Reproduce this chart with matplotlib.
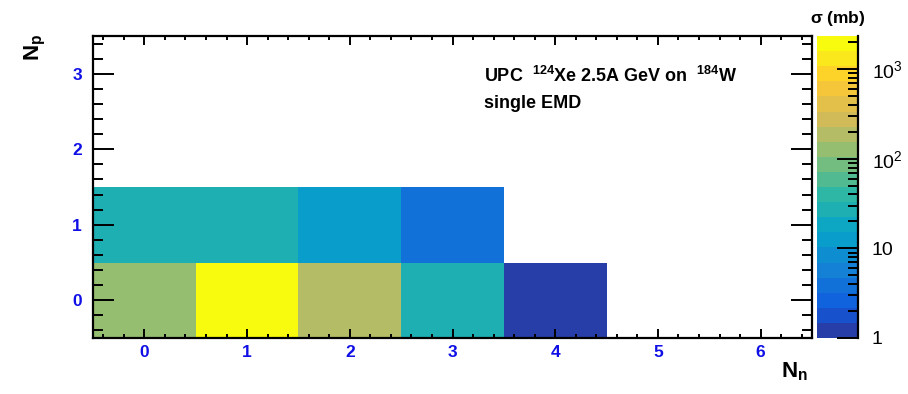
import numpy as np
import matplotlib
matplotlib.use("Agg")
import matplotlib.pyplot as plt
from matplotlib.colors import LinearSegmentedColormap, ListedColormap, LogNorm
from matplotlib.ticker import FixedLocator, MultipleLocator, NullFormatter

plt.rcParams['font.family'] = ['Liberation Sans', 'DejaVu Sans']
plt.rcParams['mathtext.default'] = 'regular'

# cross sections in mb, rows: Np = 0, 1 ; columns: Nn = 0..6
nn_edges = np.arange(-0.5, 7.0, 1.0)
np_edges = np.arange(-0.5, 4.0, 1.0)
sigma_np0 = [120, 2000, 220, 30, 1.2, np.nan, np.nan]
sigma_np1 = [30, 30, 12, 4, np.nan, np.nan, np.nan]
sigma_np2 = [np.nan] * 7
sigma_np3 = [np.nan] * 7
z_min, z_max = 1.0, 2350.0
n_contours = 20

# ROOT kBird palette
stops = [0.0, 0.125, 0.25, 0.375, 0.5, 0.625, 0.75, 0.875, 1.0]
red = [0.2082, 0.0592, 0.0780, 0.0232, 0.1802, 0.5301, 0.8186, 0.9956, 0.9764]
green = [0.1664, 0.3599, 0.5041, 0.6419, 0.7178, 0.7492, 0.7328, 0.7862, 0.9832]
blue = [0.5293, 0.8684, 0.8385, 0.7914, 0.6425, 0.4662, 0.3499, 0.1968, 0.0539]
bird = LinearSegmentedColormap.from_list(
    'bird', [(s, (r, g, b)) for s, r, g, b in zip(stops, red, green, blue)], N=255)
# ROOT picks palette index int((i+0.99)*ncolors/ndivz) for each contour band
band_cols = [bird(int((i + 0.99) * 255 / n_contours) / 254.0) for i in range(n_contours)]
cmap = ListedColormap(band_cols)
norm = LogNorm(vmin=z_min, vmax=z_max)

z = np.array([sigma_np0, sigma_np1, sigma_np2, sigma_np3], dtype=float)

fig = plt.figure(figsize=(9.08, 3.94), dpi=100)
ax = fig.add_axes([93 / 908, 1 - 338 / 394, (812 - 93) / 908, (338 - 36) / 394])
cax = fig.add_axes([817 / 908, 1 - 338 / 394, (858 - 817) / 908, (338 - 36) / 394])

ax.pcolormesh(nn_edges, np_edges, np.ma.masked_invalid(z), cmap=cmap, norm=norm)
ax.set_xlim(-0.5, 6.5)
ax.set_ylim(-0.5, 3.5)

for s in ax.spines.values():
    s.set_linewidth(1.6)
ax.xaxis.set_major_locator(MultipleLocator(1))
ax.xaxis.set_minor_locator(MultipleLocator(0.2))
ax.yaxis.set_major_locator(MultipleLocator(1))
ax.yaxis.set_minor_locator(MultipleLocator(0.2))
ax.tick_params(which='both', direction='in', top=True, right=True, width=1.4,
               labelcolor='#1010e6', labelsize=12.5)
ax.tick_params(axis='x', which='major', length=6.5, pad=5)
ax.tick_params(axis='x', which='minor', length=3.2)
ax.tick_params(axis='y', which='major', length=15, pad=8)
ax.tick_params(axis='y', which='minor', length=7.5)
for lab in ax.get_xticklabels() + ax.get_yticklabels():
    lab.set_fontweight('bold')

fig.text(808 / 908, 1 - 372 / 394, r'N$_{n}$', ha='right', va='center',
         fontsize=16, fontweight='bold')
fig.text(35 / 908, 1 - 34 / 394, r'N$_{p}$', ha='center', va='top', rotation=90,
         fontsize=16, fontweight='bold')

ax.text(484 / 908, 1 - 76 / 394, r'UPC  $^{124}$Xe 2.5A GeV on  $^{184}$W',
        transform=fig.transFigure, ha='left', va='center', fontsize=13, fontweight='bold')
ax.text(484 / 908, 1 - 104 / 394, 'single EMD', transform=fig.transFigure,
        ha='left', va='center', fontsize=13, fontweight='bold')

# colour scale
levels = np.logspace(np.log10(z_min), np.log10(z_max), n_contours + 1)
mids = np.sqrt(levels[:-1] * levels[1:])
cax.pcolormesh([0, 1], levels, mids[:, None], cmap=cmap, norm=norm)
cax.set_yscale('log')
cax.set_ylim(z_min, z_max)
cax.set_xlim(0, 1)
cax.set_xticks([])
for side in ['left', 'top', 'bottom']:
    cax.spines[side].set_visible(False)
cax.spines['right'].set_linewidth(1.6)
cax.yaxis.tick_right()
cax.yaxis.set_major_locator(FixedLocator([1, 10, 100, 1000]))
cax.yaxis.set_minor_locator(FixedLocator([m * d for d in [1, 10, 100, 1000]
                                           for m in range(2, 10)]))
cax.yaxis.set_minor_formatter(NullFormatter())
cax.set_yticklabels(['1', '10', r'10$^{2}$', r'10$^{3}$'])
cax.tick_params(axis='y', which='both', direction='in', width=1.4, labelsize=14, pad=10)
cax.tick_params(axis='y', which='major', length=15)
cax.tick_params(axis='y', which='minor', length=7.5)

fig.text(838 / 908, 1 - 18 / 394, r'$\sigma$ (mb)', ha='center', va='center',
         fontsize=12.5, fontweight='bold')

fig.savefig('out.png', dpi=100)
